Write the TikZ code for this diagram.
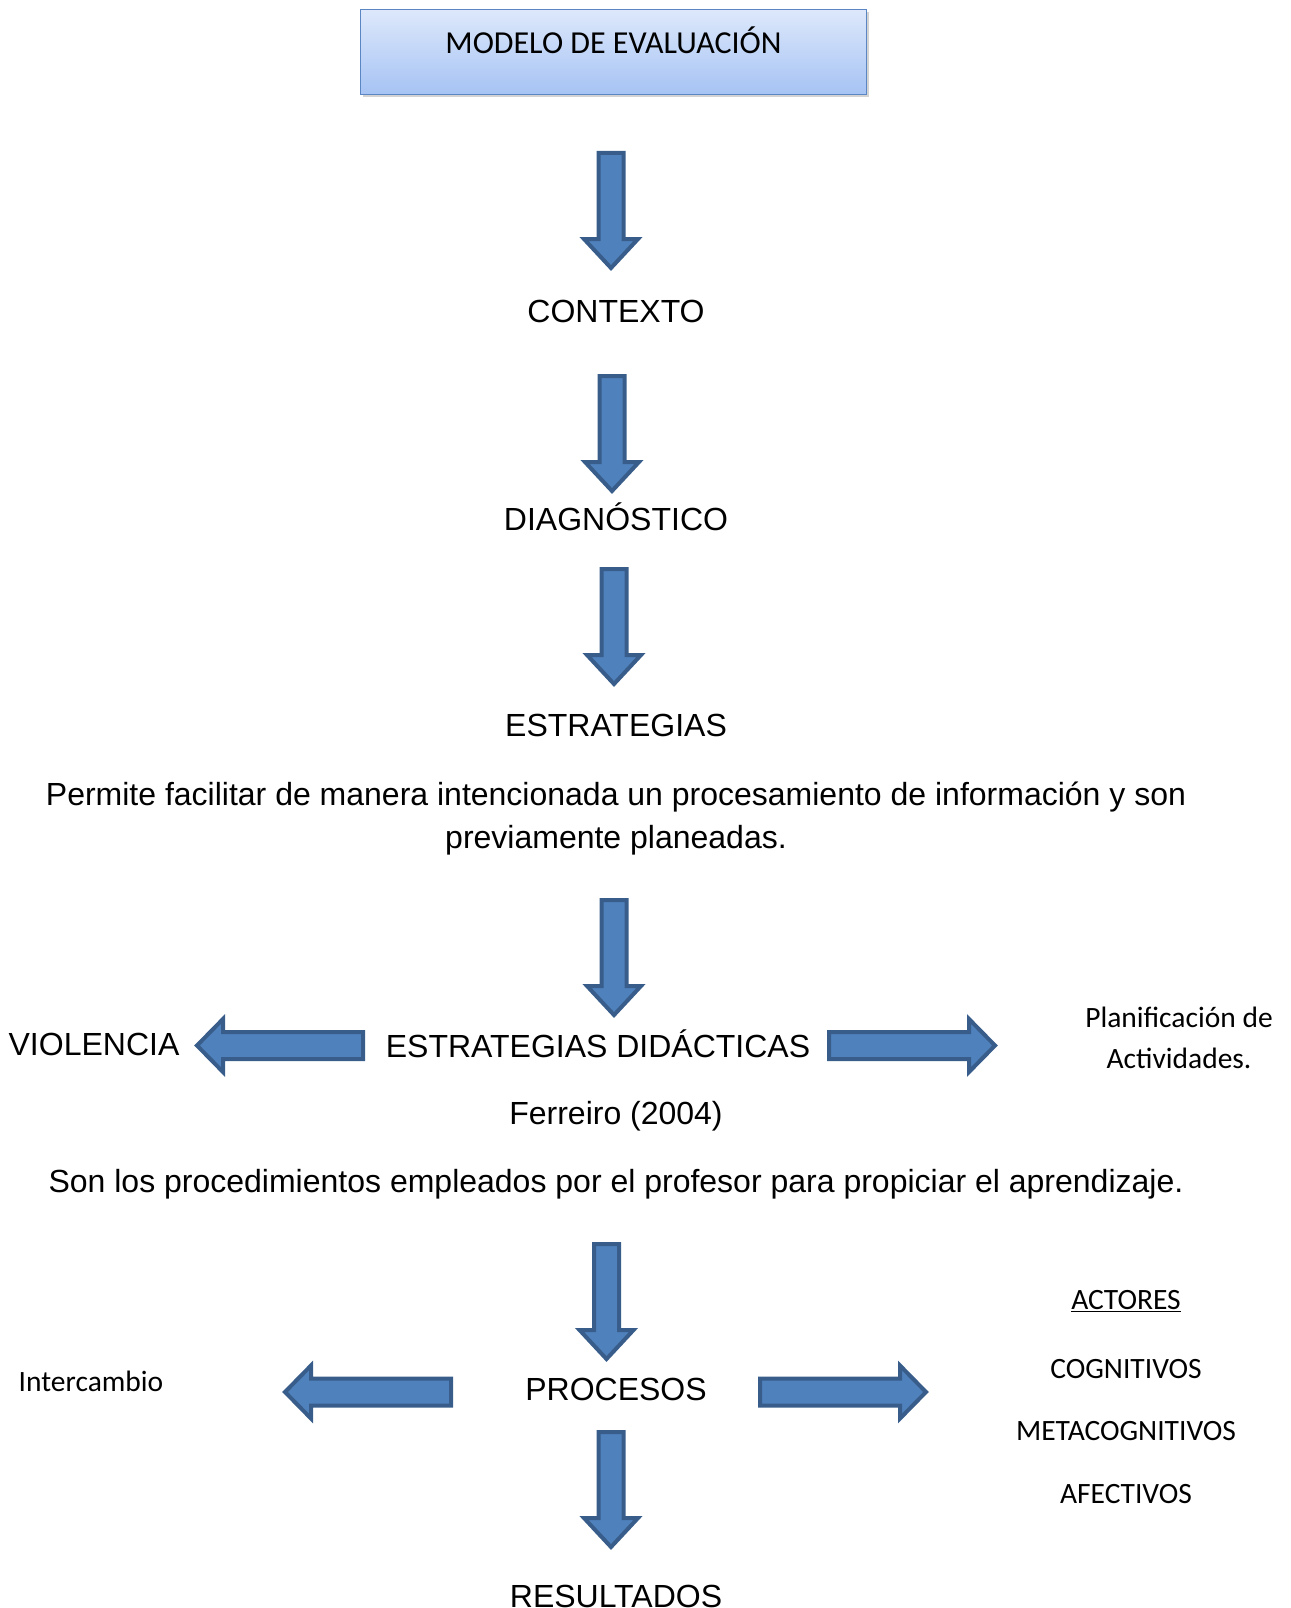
\documentclass[tikz,border=0pt]{standalone}
\usepackage{fontspec}
\setmainfont{Liberation Sans}
\newfontfamily\calfont{Carlito}
\usetikzlibrary{shadows}
\definecolor{arrfill}{HTML}{4F81BD}
\definecolor{arrdraw}{HTML}{385D8A}
\definecolor{boxtop}{HTML}{DDE8FB}
\definecolor{boxbot}{HTML}{A6C3F4}
\definecolor{boxdraw}{HTML}{5B86C4}
\tikzset{
  blockarrow/.style={fill=arrfill, draw=arrdraw, line width=4pt, line join=miter},
  downarr/.pic={\path[blockarrow] (-12.5,0) -- (12.5,0) -- (12.5,86) -- (27,86) -- (0,115) -- (-27,86) -- (-12.5,86) -- cycle;},
  rightarr/.pic={\path[blockarrow] (0,-13.5) -- (140,-13.5) -- (140,-26.5) -- (166,0) -- (140,26.5) -- (140,13.5) -- (0,13.5) -- cycle;},
  leftarr/.pic={\path[blockarrow] (0,-13.5) -- (-140,-13.5) -- (-140,-26.5) -- (-166,0) -- (-140,26.5) -- (-140,13.5) -- (0,13.5) -- cycle;},
  lbl/.style={font=\fontsize{32}{43}\selectfont, inner sep=0pt},
  clbl/.style={font=\calfont\fontsize{29.5}{41}\selectfont, inner sep=0pt},
}
\begin{document}
\begin{tikzpicture}[x=1pt,y=-1pt]
\useasboundingbox (0,0) rectangle (1290,1608);
\clip (0,0) rectangle (1290,1608);
% title box
\node[draw=boxdraw, line width=1.5pt, top color=boxtop, bottom color=boxbot,
      minimum width=506pt, minimum height=85pt, inner sep=0pt,
      drop shadow={shadow xshift=2pt, shadow yshift=-3pt, opacity=0.35}] (title) at (613.5,52) {};
\node[font=\calfont\fontsize{32}{38}\selectfont, inner sep=0pt] (titletext) at (613.5,40) {MODELO DE EVALUACIÓN};
% vertical arrows
\pic at (611,153) {downarr};
\pic at (612,376) {downarr};
\pic at (614,569) {downarr};
\pic at (614,900) {downarr};
\pic at (606.5,1244) {downarr};
\pic at (611,1432) {downarr};
% horizontal arrows
\pic at (363,1045.5) {leftarr};
\pic at (829,1045.5) {rightarr};
\pic at (451,1392) {leftarr};
\pic at (760,1392) {rightarr};
% texts
\node[lbl] (contexto) at (616,311) {CONTEXTO};
\node[lbl] (diag) at (616,517) {DIAGNÓSTICO};
\node[lbl] (estr) at (616,725) {ESTRATEGIAS};
\node[lbl, align=center] (permite) at (616,819) {Permite facilitar de manera intencionada un procesamiento de información y son\\previamente planeadas.};
\node[lbl] (violencia) at (94,1044) {VIOLENCIA};
\node[lbl] (estrdid) at (598,1044) {ESTRATEGIAS DIDÁCTICAS};
\node[clbl, align=center] (planif) at (1179,1038) {Planificación de\\Actividades.};
\node[lbl] (ferreiro) at (616,1116) {Ferreiro (2004)};
\node[lbl] (son) at (616,1184) {Son los procedimientos empleados por el profesor para propiciar el aprendizaje.};
\node[clbl] (inter) at (91,1381) {Intercambio};
\node[lbl] (procesos) at (616,1389) {PROCESOS};
\node[clbl] (actores) at (1126,1301) {\underline{ACTORES}};
\node[clbl] (cogn) at (1126,1369) {COGNITIVOS};
\node[clbl] (meta) at (1126,1431) {METACOGNITIVOS};
\node[clbl] (afec) at (1126,1494) {AFECTIVOS};
\node[lbl] (result) at (616,1596) {RESULTADOS};
\end{tikzpicture}
\end{document}
